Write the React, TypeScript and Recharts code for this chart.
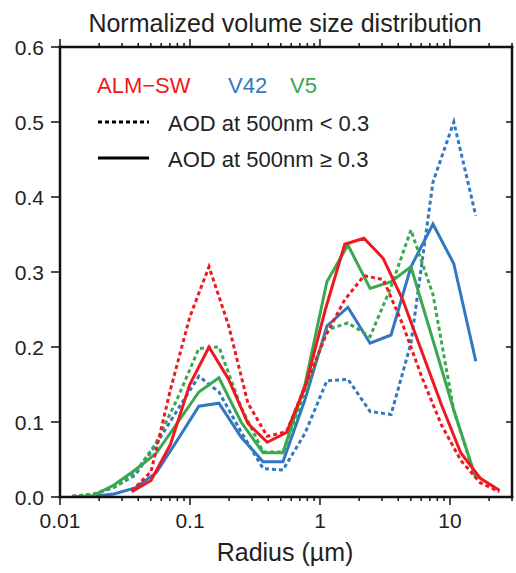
import React from "react";
import { LineChart, Line, XAxis, YAxis } from "recharts";

// radius grids (µm)
const RADIUS_AERONET = [0.0124, 0.018, 0.026, 0.0378, 0.0548, 0.0794, 0.117, 0.167, 0.247, 0.365, 0.519, 0.767, 1.13, 1.64, 2.43, 3.52, 5.01, 7.4, 10.7, 15.8];
const RADIUS_ALM = [0.0356, 0.0502, 0.0707, 0.0996, 0.14, 0.198, 0.279, 0.393, 0.553, 0.78, 1.1, 1.55, 2.18, 3.07, 4.33, 6.1, 8.6, 12.1, 17.1, 24.0];

// normalized volume size distributions
const ALM_HIGH = [0.007, 0.022, 0.07, 0.15, 0.2, 0.157, 0.098, 0.073, 0.086, 0.15, 0.25, 0.337, 0.345, 0.318, 0.263, 0.193, 0.123, 0.059, 0.025, 0.009];
const ALM_LOW = [0.008, 0.034, 0.143, 0.24, 0.307, 0.229, 0.125, 0.081, 0.087, 0.15, 0.214, 0.263, 0.295, 0.29, 0.23, 0.159, 0.096, 0.049, 0.019, 0.007];
const V42_HIGH = [0, 0.001, 0.004, 0.012, 0.032, 0.075, 0.121, 0.125, 0.08, 0.047, 0.047, 0.13, 0.228, 0.253, 0.205, 0.216, 0.307, 0.364, 0.311, 0.181];
const V42_LOW = [0.001, 0.003, 0.013, 0.029, 0.07, 0.115, 0.161, 0.14, 0.087, 0.038, 0.036, 0.085, 0.155, 0.157, 0.114, 0.11, 0.205, 0.42, 0.5, 0.375];
const V5_HIGH = [0, 0.002, 0.016, 0.036, 0.058, 0.098, 0.14, 0.159, 0.1, 0.059, 0.059, 0.15, 0.287, 0.336, 0.278, 0.287, 0.307, 0.209, 0.116, 0.025];
const V5_LOW = [0.001, 0.004, 0.013, 0.032, 0.072, 0.13, 0.198, 0.2, 0.12, 0.06, 0.06, 0.14, 0.223, 0.232, 0.214, 0.28, 0.356, 0.27, 0.115, 0.025];

const X_MAJOR = [0.01, 0.1, 1, 10];
const X_LABELS = ["0.01", "0.1", "1", "10"];
const Y_TICKS = [0, 0.1, 0.2, 0.3, 0.4, 0.5, 0.6];
const Y_LABELS = ["0.0", "0.1", "0.2", "0.3", "0.4", "0.5", "0.6"];

const TITLE = "Normalized volume size distribution";
const X_TITLE = "Radius (\u00b5m)";

const RED = "#f01820";
const BLUE = "#3277c2";
const GREEN = "#3aa84e";
const FONT = "'Liberation Sans', Arial, Helvetica, sans-serif";

const X_DOMAIN = [0.01, 30];
const Y_DOMAIN = [0, 0.6];

// layout of the plotting box
const W = 516;
const H = 573;
const M_TOP = 47;
const M_RIGHT = 4;
const Y_AXIS_W = 60;
const X_AXIS_H = 76;
const PL = Y_AXIS_W;
const PR = W - M_RIGHT;
const PT = M_TOP;
const PB = H - X_AXIS_H;

const X_ALL: number[] = [];
X_MAJOR.forEach((d) => {
  for (let k = 1; k <= 9; k++) {
    const v = Number((k * d).toPrecision(3));
    if (v <= X_DOMAIN[1]) X_ALL.push(v);
  }
});

const zip = (xs: number[], ys: number[]) => xs.map((x, i) => ({ x, y: ys[i] }));
const isMajor = (v: number) => X_MAJOR.some((m) => Math.abs(m - v) < 1e-9);

// decoration positions (frame ticks) matching the log axis
const lx = (v: number) =>
  PL + ((Math.log10(v) - Math.log10(X_DOMAIN[0])) / (Math.log10(X_DOMAIN[1]) - Math.log10(X_DOMAIN[0]))) * (PR - PL);
const ly = (v: number) => PB - ((v - Y_DOMAIN[0]) / (Y_DOMAIN[1] - Y_DOMAIN[0])) * (PB - PT);

const BottomTick = (props: any) => {
  const { x, y, payload } = props;
  const v = payload.value;
  const idx = X_MAJOR.findIndex((m) => Math.abs(m - v) < 1e-9);
  if (idx < 0) return <g />;
  return (
    <text x={x} y={y + 31} textAnchor="middle" fontSize={21} fontFamily={FONT} fill="#222">
      {X_LABELS[idx]}
    </text>
  );
};

const LeftTick = (props: any) => {
  const { x, y, payload, index } = props;
  return (
    <text x={x - 16} y={y + 7.5} textAnchor="end" fontSize={21} fontFamily={FONT} fill="#222">
      {Y_LABELS[index] ?? String(payload.value)}
    </text>
  );
};

const series = [
  { key: "v42low", data: zip(RADIUS_AERONET, V42_LOW), color: BLUE, dash: "4 3" },
  { key: "v42high", data: zip(RADIUS_AERONET, V42_HIGH), color: BLUE, dash: undefined },
  { key: "v5low", data: zip(RADIUS_AERONET, V5_LOW), color: GREEN, dash: "4 3" },
  { key: "v5high", data: zip(RADIUS_AERONET, V5_HIGH), color: GREEN, dash: undefined },
  { key: "almlow", data: zip(RADIUS_ALM, ALM_LOW), color: RED, dash: "4 3" },
  { key: "almhigh", data: zip(RADIUS_ALM, ALM_HIGH), color: RED, dash: undefined },
];

export default function App() {
  return (
    <div style={{ position: "absolute", left: 0, top: 0, width: W, height: H, background: "#fff" }}>
      <LineChart width={W} height={H} margin={{ top: M_TOP, right: M_RIGHT, bottom: 0, left: 0 }}>
        <XAxis
          type="number"
          dataKey="x"
          scale="log"
          domain={X_DOMAIN}
          allowDataOverflow
          ticks={X_ALL}
          interval={0}
          height={X_AXIS_H}
          tickSize={0}
          tickMargin={0}
          tickLine={false}
          axisLine={false}
          tick={<BottomTick />}
        />
        <YAxis
          type="number"
          domain={Y_DOMAIN}
          allowDataOverflow
          ticks={Y_TICKS}
          interval={0}
          width={Y_AXIS_W}
          tickSize={0}
          tickMargin={0}
          tickLine={false}
          axisLine={false}
          tick={<LeftTick />}
        />
        {series.map((s) => (
          <Line
            key={s.key}
            data={s.data}
            dataKey="y"
            type="linear"
            stroke={s.color}
            strokeWidth={3}
            strokeDasharray={s.dash}
            dot={false}
            activeDot={false}
            isAnimationActive={false}
          />
        ))}
      </LineChart>
      <svg
        width={W}
        height={H}
        style={{ position: "absolute", left: 0, top: 0, pointerEvents: "none" }}
        fontFamily={FONT}
      >
        <g stroke="#111" strokeWidth={2.5} strokeLinecap="square">
          <line x1={PL} x2={PR} y1={PT} y2={PT} />
          <line x1={PL} x2={PR} y1={PB} y2={PB} />
          <line x1={PL} x2={PL} y1={PT} y2={PB} />
          <line x1={PR} x2={PR} y1={PT} y2={PB} />
        </g>
        {X_ALL.map((v) => (
          <g key={"xt" + v} stroke="#111" strokeWidth={1.5}>
            <line x1={lx(v)} x2={lx(v)} y1={PB} y2={PB + (isMajor(v) ? 8 : 4)} />
            <line x1={lx(v)} x2={lx(v)} y1={PT} y2={PT - (isMajor(v) ? 8 : 4)} />
          </g>
        ))}
        {Y_TICKS.map((v) => (
          <g key={"yt" + v} stroke="#111" strokeWidth={1.5}>
            <line x1={PL} x2={PL - 9} y1={ly(v)} y2={ly(v)} />
            <line x1={PR} x2={PR - 6} y1={ly(v)} y2={ly(v)} />
          </g>
        ))}
        <text x={285} y={32} textAnchor="middle" fontSize={25} fill="#222">
          {TITLE}
        </text>
        <text x={285} y={561} textAnchor="middle" fontSize={25} fill="#222">
          {X_TITLE}
        </text>
        <text x={97} y={93} fontSize={22} fill={RED}>ALM{"\u2212"}SW</text>
        <text x={228} y={93} fontSize={22} fill={BLUE}>V42</text>
        <text x={290} y={93} fontSize={22} fill={GREEN}>V5</text>
        <line x1={98} x2={149} y1={122} y2={122} stroke="#000" strokeWidth={3} strokeDasharray="4 3" />
        <text x={168} y={131} fontSize={22} fill="#222">AOD at 500nm {"<"} 0.3</text>
        <line x1={98} x2={149} y1={158} y2={158} stroke="#000" strokeWidth={3} />
        <text x={168} y={167} fontSize={22} fill="#222">AOD at 500nm {"\u2265"} 0.3</text>
      </svg>
    </div>
  );
}
